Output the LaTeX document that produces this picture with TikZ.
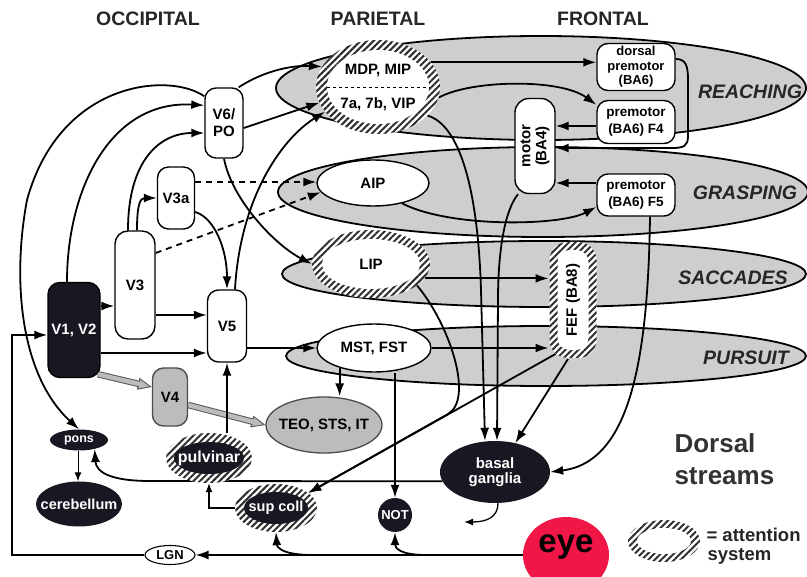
\documentclass[tikz,border=0pt]{standalone}
\usepackage{fontspec}
\setmainfont{Liberation Sans}
\usetikzlibrary{shapes.geometric,arrows.meta,patterns.meta,calc}
\pgfdeclarelayer{streams}
\pgfdeclarelayer{lines}
\pgfsetlayers{streams,lines,main}
\definecolor{nodeblack}{RGB}{24,24,34}
\definecolor{eyered}{RGB}{240,22,72}
\definecolor{streamgray}{RGB}{206,206,206}
\definecolor{vgray}{RGB}{188,188,188}
\definecolor{hatchcol}{RGB}{45,45,45}
\newcommand\setfs[2]{\fontsize{#1pt}{#2pt}\selectfont}
\newcommand\grayarr[2]{%
  \draw[black!65, line width=0.9pt, -{Triangle[length=14pt,width=12pt,fill=vgray]}] #1 -- #2;
  \draw[black!65, line width=6.5pt, shorten >=12.5pt] #1 -- #2;
  \draw[vgray, line width=4.5pt, shorten >=12pt] #1 -- #2;}
\begin{document}
\begin{tikzpicture}[x=1pt,y=-1pt,
 every label/.style={font=\bfseries\setfs{15}{16}, inner sep=0pt},
 box/.style={draw, line width=1.4pt, rounded corners=11pt, fill=white, inner sep=0pt, align=center, font=\bfseries\setfs{15}{17}},
 pbox/.style={box, minimum width=78pt, font=\bfseries\setfs{13.5}{17}},
 wellipse/.style={ellipse, draw, line width=1.4pt, fill=white, inner sep=0pt},
 blk/.style={ellipse, fill=nodeblack, inner sep=0pt},
 hatch/.style={inner sep=0pt, preaction={fill=white}, pattern={Lines[angle=45,distance=4.6pt,line width=2pt]}, pattern color=hatchcol},
 stream/.style={draw, line width=1.8pt, fill=streamgray},
 arr/.style={line width=1.8pt, -{Latex[length=13pt,width=9pt]}},
 sarr/.style={line width=1.3pt, -{Latex[length=9pt,width=7pt]}},
 darr/.style={arr, dash pattern=on 6pt off 5pt},
 head/.style={font=\bfseries\setfs{19.5}{20}, text=black!85},
 slabel/.style={font=\bfseries\itshape\setfs{19.5}{20}, text=black!85},
]
\useasboundingbox (0,0) rectangle (807,577);

% ---------- streams ----------
\begin{pgfonlayer}{streams}
\draw[stream] (541,88) ellipse [x radius=265, y radius=52];
\draw[stream] (543,192) ellipse [x radius=265, y radius=45];
\draw[stream] (544,274) ellipse [x radius=262, y radius=33];
\draw[stream] (546,356) ellipse [x radius=260, y radius=30];
\end{pgfonlayer}

% ---------- headers & labels ----------
\node[head] (hocc) at (148,19) {OCCIPITAL};
\node[head] (hpar) at (378,19) {PARIETAL};
\node[head] (hfro) at (603,19) {FRONTAL};
\node[slabel] (lreach) at (750,92) {REACHING};
\node[slabel] (lgrasp) at (745,193) {GRASPING};
\node[slabel] (lsacc) at (733,278) {SACCADES};
\node[slabel] (lpurs) at (746,358) {PURSUIT};
\node[anchor=west, font=\bfseries\setfs{26}{28}, text=black!80] (ds1) at (671,443) {Dorsal};
\node[anchor=west, font=\bfseries\setfs{26}{28}, text=black!80] (ds2) at (671,476) {streams};

% ---------- occipital boxes ----------
\node[box, minimum width=52pt, minimum height=95pt, fill=nodeblack, text=white, rounded corners=12pt] (v1) at (74,330) {V1, V2};
\node[box, minimum width=40pt, minimum height=108pt, rounded corners=13pt] (v3) at (135,285) {V3};
\node[box, minimum width=37pt, minimum height=62pt] (v3a) at (176,198) {V3a};
\node[box, minimum width=39pt, minimum height=72pt] (v5) at (227,326) {V5};
\node[box, minimum width=38pt, minimum height=70pt] (v6) at (224,123) {V6/\\PO};
\node[box, minimum width=35pt, minimum height=58pt, fill=vgray, draw=black!70] (v4) at (170,397) {V4};

% ---------- frontal boxes ----------
\node[box, minimum width=78pt, minimum height=47pt, font=\bfseries\setfs{13}{14.5}] (dpm) at (636,67) {dorsal\\premotor\\(BA6)};
\node[pbox, minimum height=43pt] (f4) at (636,122) {premotor\\(BA6) F4};
\node[pbox, minimum height=42pt] (f5) at (636,195) {premotor\\(BA6) F5};
\node[box, minimum width=40pt, minimum height=95pt, rounded corners=14pt,
      label={[rotate=90, align=center, font=\bfseries\setfs{15}{16}]center:{motor\\(BA4)}}] (motor) at (535,146) {};
\node[hatch, rectangle, rounded corners=18pt, minimum width=47pt, minimum height=116pt] (fef) at (573,300) {};
\node[rectangle, rounded corners=12pt, fill=white, inner sep=0pt, minimum width=31pt, minimum height=100pt,
      label={[rotate=90]center:{FEF (BA8)}}] (fefin) at (fef.center) {};

% ---------- parietal ellipses ----------
\node[hatch, ellipse, minimum width=124pt, minimum height=94pt] (mdp) at (378,87) {};
\node[ellipse, fill=white, inner sep=0pt, minimum width=102pt, minimum height=74pt,
      label={[yshift=16pt]center:{MDP, MIP}}, label={[yshift=-17pt]center:{7a, 7b, VIP}}] (mdpin) at (mdp.center) {};
\draw[dashed, line width=0.7pt] (mdpin.west) -- (mdpin.east);
\node[wellipse, minimum width=112pt, minimum height=46pt, label=center:AIP] (aip) at (373,183) {};
\node[hatch, ellipse, minimum width=118pt, minimum height=68pt] (lip) at (371,264) {};
\node[ellipse, fill=white, inner sep=0pt, minimum width=98pt, minimum height=50pt, label=center:LIP] (lipin) at (lip.center) {};
\node[wellipse, minimum width=114pt, minimum height=48pt, label={center:{MST, FST}}] (mst) at (374,348) {};
\node[ellipse, draw=black!70, line width=1.3pt, fill=vgray, inner sep=0pt, minimum width=116pt, minimum height=56pt,
      label={center:{TEO, STS, IT}}] (teo) at (324,425) {};

% ---------- subcortical ----------
\node[blk, minimum width=110pt, minimum height=62pt,
      label={[align=center, text=white, font=\bfseries\setfs{15}{15.5}]center:{basal\\ganglia}}] (bg) at (495,472) {};
\node[blk, minimum width=58pt, minimum height=21pt, label={[text=white, font=\bfseries\setfs{12.5}{13}]center:pons}] (pons) at (79,440) {};
\node[blk, minimum width=86pt, minimum height=45pt, label={[text=white, font=\bfseries\setfs{14.5}{15}]center:cerebellum}] (cereb) at (79,504) {};
\node[hatch, ellipse, minimum width=86pt, minimum height=50pt] (pulv) at (209,458) {};
\node[blk, minimum width=70pt, minimum height=32pt, label={[text=white, font=\bfseries\setfs{16}{16}]center:pulvinar}] (pulvin) at (pulv.center) {};
\node[hatch, ellipse, minimum width=82pt, minimum height=48pt] (supcoll) at (276,508) {};
\node[blk, minimum width=64pt, minimum height=32pt, label={[text=white, font=\bfseries\setfs{14.5}{15}]center:{sup coll}}] (supin) at (supcoll.center) {};
\node[circle, fill=nodeblack, inner sep=0pt, minimum size=34pt, text=white, font=\bfseries\setfs{13}{13}] (not) at (395,515) {NOT};
\node[ellipse, fill=eyered, inner sep=0pt, minimum width=86pt, minimum height=76pt,
      label={[yshift=8pt, font=\bfseries\setfs{33}{33}]center:eye}] (eye) at (566,555) {};
\node[wellipse, line width=1.1pt, minimum width=50pt, minimum height=19pt, label={[font=\bfseries\setfs{13}{13}]center:LGN}] (lgn) at (170,555) {};

% ---------- legend ----------
\node[hatch, ellipse, minimum width=72pt, minimum height=42pt] (leg) at (664,541) {};
\node[ellipse, fill=white, inner sep=0pt, minimum width=54pt, minimum height=26pt] (legin) at (leg.center) {};
\node[anchor=west, font=\bfseries\setfs{18.5}{19}, text=black!85] (leg1) at (703,535) {= attention};
\node[anchor=west, font=\bfseries\setfs{18.5}{19}, text=black!85] (leg2) at (704,556) {system};

% ---------- connectors ----------
\coordinate (brk) at (672,148);
\coordinate (b1) at (312,555);
\coordinate (b2) at (426,555);
\coordinate (pbend) at (150,481);
\coordinate (bgout) at (464,522);
\begin{pgfonlayer}{lines}
\draw[arr] ([yshift=-9pt]v6.north west) .. controls (170,72) and (60,80) .. (27,200) .. controls (12,280) and (20,375) .. (pons.north);
\draw[arr] ([xshift=-7pt]v1.north) .. controls (67,190) and (110,100) .. ([yshift=-18pt]v6.north west);
\draw[arr] ([xshift=-7pt]v3.north) .. controls (128,160) and (160,133) .. ([yshift=-10pt]v6.west);
\draw[arr] ([xshift=2pt]v3.north) .. controls (137,205) and (140,198) .. (v3a.west);
\draw[arr] ([yshift=24pt]v1.east) -- ([yshift=-21pt]v3.west);
\draw[arr] ([yshift=-30pt]v3.east) -- ([yshift=11pt]v5.west);
\draw[arr] ([yshift=-23pt]v1.east) -- ([yshift=-27pt]v5.west);
\draw[arr] ([yshift=-14pt]v3a.east) .. controls (215,218) and (227,250) .. (v5.north);
\draw[darr] ([yshift=16pt]v3a.east) -- ([yshift=16pt]v3a.east -| aip.west);
\draw[darr] ([yshift=32pt]v3.east) -- (aip.190);
\draw[arr] ([xshift=-5pt]v6.north east) .. controls (262,72) and (290,65) .. (mdp.160);
\draw[arr] ([yshift=-5pt]v6.east) -- (mdp.195);
\draw[arr] ([xshift=8pt]v5.north) .. controls (240,200) and (280,140) .. (mdp.205);
\draw[arr] (v6.south) .. controls (232,200) and (275,245) .. (lip.west);
\draw[arr] ([yshift=-22pt]v5.east) -- (mst.west);
\draw[arr] (mdp.25) -- (mdp.25 -| dpm.west);
\draw[arr] (mdp.-10) .. controls (470,80) and (560,78) .. ([yshift=-5pt]f4.north west);
\draw[arr] ([yshift=-4pt]f4.west) -- ([yshift=-4pt]f4.west -| motor.east);
\draw[arr] ([yshift=8pt]dpm.east) .. controls (686,59) and (688,66) .. (688,80) -- (688,136) .. controls (688,146) and (684,148) .. (brk) -- (motor.east |- brk);
\draw[arr] ([yshift=12pt]f5.west) -- ([yshift=12pt]f5.west -| motor.east);
\draw[arr] (aip.-35) .. controls (450,228) and (560,226) .. ([yshift=-12pt]f5.west);
\draw[arr] (lip.-15) -- (lip.-15 -| fef.west);
\draw[arr] (mst.east) -- (mst.east -| fef.west);
\draw[arr] (mdp.-30) .. controls (460,125) and (478,190) .. (481,290) -- ([xshift=-10pt]bg.north);
\draw[arr] ([xshift=-17pt]motor.south) .. controls (505,210) and (498,250) .. (498,300) -- ([xshift=2pt]bg.north);
\draw[arr] ([xshift=-5pt]fef.south) -- (bg.55);
\draw[arr] ([shift={(7pt,5pt)}]fef.south west) -- (supcoll.25);
\draw[arr] (lip.-25) .. controls (450,325) and (474,399) .. (448,414) -- (supcoll.25);
\draw[arr] ([xshift=14pt]f5.south) .. controls (648,360) and (630,462) .. (bg.east);
\draw[arr] (mst.-150) -- (mst.-150 |- teo.north);
\draw[arr] (not.north |- mst.south) -- (not.north);
\grayarr{([shift={(-3pt,4pt)}]v1.south east)}{([yshift=10pt]v4.west)}
\grayarr{([yshift=-8pt]v4.east)}{(teo.west)}
\draw[arr] (v5.south |- pulv.north) -- (v5.south);
\draw[sarr] (supcoll.west) -| (pulv.south);
\draw[sarr, line width=1pt] ([xshift=-1pt]pons.south) -- ([xshift=-1pt]cereb.north);
\draw[arr] (eye.west |- lgn.east) -- (lgn.east);
\draw[arr] (lgn.west) -| ([xshift=-35pt,yshift=-5pt]v1.west) -- ([yshift=-5pt]v1.west);
\draw[arr] (b1) .. controls (284,555) and (277,548) .. (supcoll.south);
\draw[arr] (b2) .. controls (400,555) and (395,548) .. (not.south);
\draw[arr] (bg.190) -- (pbend) .. controls (110,481) and (96,472) .. (pons.-30);
\draw[sarr] ([xshift=3pt]bg.south) .. controls (498,517) and (487,522) .. (bgout);
\end{pgfonlayer}
\end{tikzpicture}
\end{document}
